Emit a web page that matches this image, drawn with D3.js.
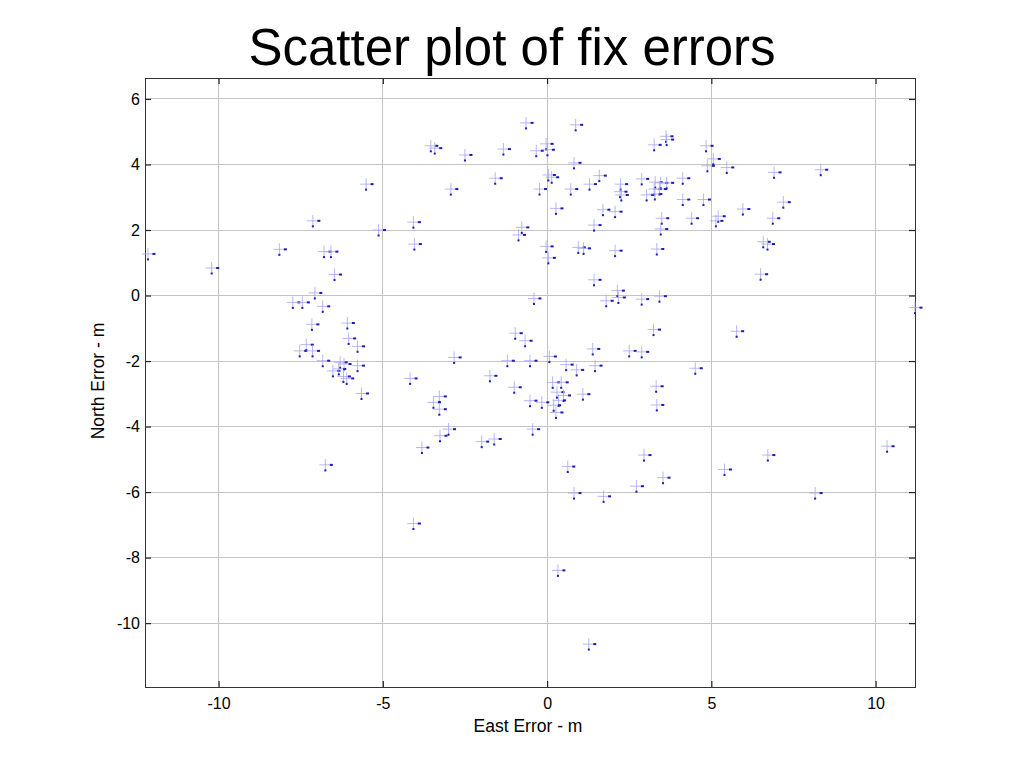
<!DOCTYPE html>
<html>
<head>
<meta charset="utf-8">
<script src="https://cdn.jsdelivr.net/npm/d3@7"></script>
<style>
  html, body { margin: 0; padding: 0; background: #fff; }
  svg { display: block; font-family: "Liberation Sans", Arial, sans-serif; }
</style>
</head>
<body>
<svg id="chart" width="1024" height="768"></svg>
<script>
// ---- data ----
const eastErr = [
  -5.51, -7.13, -5.13, -12.15, -10.21, -8.15, -6.79, -6.58, -6.47, -7.07,
  -7.74, -7.45, -6.83, -7.16, -6.08, -6.04, -5.77, -7.33, -7.53, -7.14,
  -6.83, -6.30, -6.52, -6.34, -6.18, -6.20, -6.10, -5.77, -5.65, -6.75,
  -0.64, 0.87, -3.54, -3.42, -2.50, -1.33, -0.33, -0.03, 0.01, 0.82,
  -1.58, 0.04, 0.14, -2.93, -0.23, 0.72, 1.29, 1.59, 2.24, 2.22,
  2.26, 2.88, 3.03, 0.27, 1.70, 2.07, -4.07, 1.43, -0.77, -0.87,
  -4.04, -0.03, 0.04, 0.95, 1.11, 2.07, 3.34, 1.43, -0.40, 1.80,
  2.14, 2.17, 2.88,
  3.26, 3.62, 3.64, 4.84, 5.06, 4.88, 5.47, 6.91, 8.33, 4.13,
  3.29, 3.46, 3.64, 3.26, 3.42, 3.28, 4.13, 4.76, 5.96, 7.19,
  3.49, 4.40, 5.21, 5.14, 6.87, 3.46, 6.58, 6.71, 6.50, 3.42, 11.2,
  -0.97, -0.67, 1.39, 2.50, 2.88, 3.24, -2.83, -1.21, -0.52, 0.07,
  0.58, 0.90, 1.46, -4.17, -1.74, -1.00, 0.17, 0.43, 0.30, 0.50,
  0.35, 0.20, 1.09, -0.52, -0.16, 0.27, -3.46, -3.28, -3.28, -3.00,
  -3.26, -3.81, -1.99, -1.61, -0.44, 2.95, 0.63, 3.32, 3.34,
  3.53, 2.72, 0.82, 1.72, 5.40, 6.72, 8.16, 10.35, -4.07, 0.33, 1.27,
  5.77, 4.51
];
const northErr = [
  3.40, 2.28, 2.00, 1.27, 0.84, 1.41, 1.34, 1.34, 0.64, 0.08,
  -0.21, -0.21, -0.33, -0.88, -0.84, -1.31, -1.55, -1.50, -1.69, -1.69,
  -1.99, -2.04, -2.30, -2.24, -2.09, -2.47, -2.53, -2.14, -2.99, -5.17,
  5.27, 5.21, 4.57, 4.50, 4.29, 4.47, 4.42, 4.63, 4.45, 4.05,
  3.58, 3.68, 3.61, 3.25, 3.25, 3.25, 3.40, 3.66, 3.40, 3.17,
  3.07, 3.56, 3.07, 2.66, 2.62, 2.56, 2.24, 2.15, 2.08, 1.85,
  1.57, 1.50, 1.15, 1.47, 1.44, 1.37, 1.42, 0.48, -0.09, -0.16,
  0.15, -0.06, -0.11,
  4.60, 4.86, 4.76, 4.57, 4.17, 3.96, 3.91, 3.76, 3.84, 3.58,
  3.46, 3.44, 3.44, 3.25, 3.25, 3.10, 2.93, 2.93, 2.64, 2.85,
  2.36, 2.36, 2.42, 2.28, 2.36, 2.03, 1.64, 1.57, 0.65, -0.02, -0.37,
  -1.15, -1.38, -1.63, -1.69, -1.72, -1.04, -1.89, -1.99, -1.99, -1.86,
  -2.11, -2.27, -2.14, -2.53, -2.45, -2.80, -2.65, -2.65, -2.95, -3.05,
  -3.20, -3.35, -3.01, -3.21, -3.26, -3.57, -3.26, -3.08, -3.47, -4.08,
  -4.28, -4.64, -4.46, -4.38, -4.08, -4.87, -5.22, -2.77, -3.34,
  -5.56, -5.82, -6.03, -6.13, -5.31, -4.87, -6.03, -4.60, -6.96, -8.39, -10.64,
  -1.09, -2.22
];
const xTicks = [-10, -5, 0, 5, 10];
const yTicks = [6, 4, 2, 0, -2, -4, -6, -8, -10];
const xDomain = [-12.24, 11.2];
const yDomain = [-11.95, 6.64];
const titleText = "Scatter plot of fix errors";
const xLabel = "East Error - m";
const yLabel = "North Error - m";

// ---- layout ----
const L = 145, R = 915, T = 78, B = 687;
const svg = d3.select("#chart");
const x = d3.scaleLinear().domain(xDomain).range([L, R]);
const y = d3.scaleLinear().domain(yDomain).range([B, T]);

// gridlines
const grid = svg.append("g");
grid.selectAll("line.gx").data(xTicks).join("line")
  .attr("x1", d => x(d)).attr("x2", d => x(d)).attr("y1", T).attr("y2", B)
  .attr("stroke", "#c4c4c4").attr("stroke-width", 1).attr("shape-rendering", "crispEdges");
grid.selectAll("line.gy").data(yTicks).join("line")
  .attr("y1", d => y(d)).attr("y2", d => y(d)).attr("x1", L).attr("x2", R)
  .attr("stroke", "#c4c4c4").attr("stroke-width", 1).attr("shape-rendering", "crispEdges");

// axes (labels) using d3 axis generators
const fmt = d => String(d);
const xAxis = svg.append("g").attr("transform", `translate(0,${B})`)
  .call(d3.axisBottom(x).tickValues(xTicks).tickFormat(fmt).tickSizeInner(-6).tickSizeOuter(0).tickPadding(11));
const xAxisTop = svg.append("g").attr("transform", `translate(0,${T})`)
  .call(d3.axisTop(x).tickValues(xTicks).tickFormat("").tickSizeInner(-6).tickSizeOuter(0));
const yAxis = svg.append("g").attr("transform", `translate(${L},0)`)
  .call(d3.axisLeft(y).tickValues(yTicks).tickFormat(fmt).tickSizeInner(-6).tickSizeOuter(0).tickPadding(5));
const yAxisRight = svg.append("g").attr("transform", `translate(${R},0)`)
  .call(d3.axisRight(y).tickValues(yTicks).tickFormat("").tickSizeInner(-6).tickSizeOuter(0));

[xAxis, xAxisTop, yAxis, yAxisRight].forEach(g => {
  g.select(".domain").remove();
  g.selectAll(".tick line").attr("stroke", "#222").attr("stroke-width", 1.2);
  g.selectAll(".tick text").attr("fill", "#000").style("font-size", "16px")
    .style("font-family", '"Liberation Sans", Arial, sans-serif');
});

// frame
svg.append("rect").attr("x", L).attr("y", T).attr("width", R - L).attr("height", B - T)
  .attr("fill", "none").attr("stroke", "#333").attr("stroke-width", 1).attr("shape-rendering", "crispEdges");

// points
const pts = eastErr.map((e, i) => ({ e, n: northErr[i] }));
const mk = svg.append("g").selectAll("g").data(pts).join("g")
  .attr("transform", d => `translate(${x(d.e)},${y(d.n)})`);
mk.append("line").attr("x1", -6).attr("x2", 6).attr("y1", 0).attr("y2", 0)
  .attr("stroke", "#a4a4f2").attr("stroke-width", 0.8);
mk.append("line").attr("x1", 0).attr("x2", 0).attr("y1", -6).attr("y2", 6)
  .attr("stroke", "#a4a4f2").attr("stroke-width", 0.8);
mk.append("rect").attr("x", 4.5).attr("y", -1).attr("width", 3).attr("height", 2).attr("fill", "#1a1ab8");
mk.append("rect").attr("x", -1).attr("y", 4.5).attr("width", 2).attr("height", 2).attr("fill", "#1a1ab8");

// title and labels
svg.append("text").attr("x", 512).attr("y", 65).attr("text-anchor", "middle")
  .style("font-size", "51px").attr("fill", "#000").text(titleText);
svg.append("text").attr("x", 528).attr("y", 732).attr("text-anchor", "middle")
  .style("font-size", "17.5px").attr("fill", "#000").text(xLabel);
svg.append("text").attr("transform", "translate(104,381) rotate(-90)").attr("text-anchor", "middle")
  .style("font-size", "17.5px").attr("fill", "#000").text(yLabel);
</script>
</body>
</html>
